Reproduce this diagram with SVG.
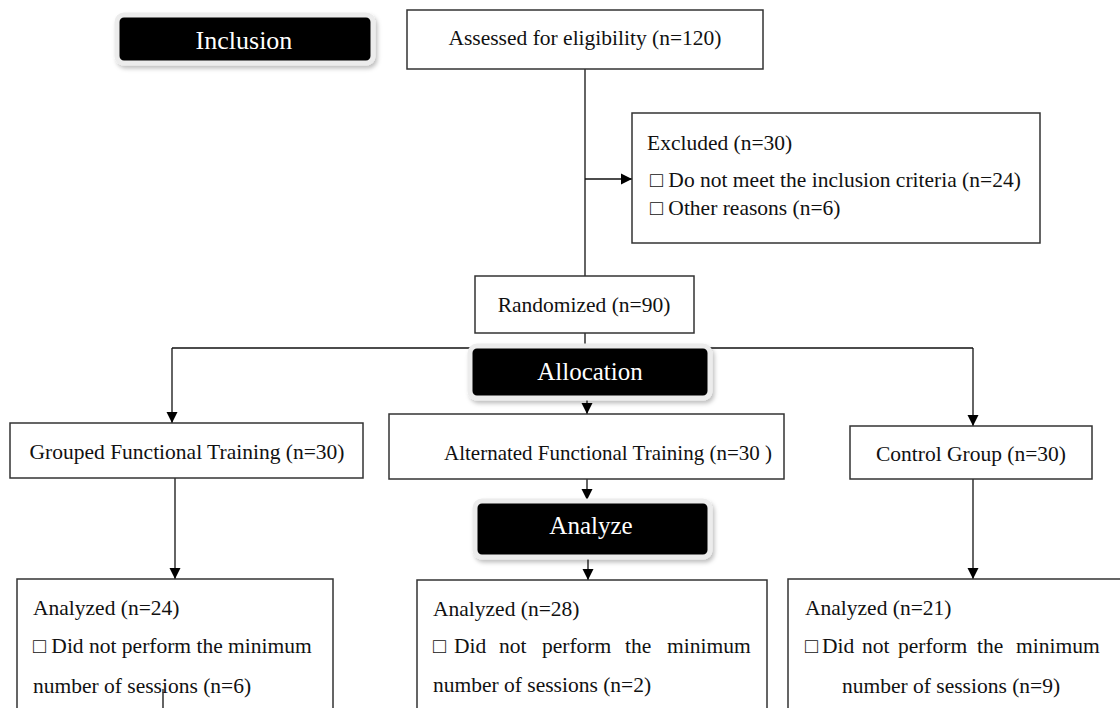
<svg xmlns="http://www.w3.org/2000/svg" width="1120" height="708" viewBox="0 0 1120 708">
<defs>
<marker id="arr" markerWidth="12" markerHeight="12" refX="11" refY="6" orient="auto" markerUnits="userSpaceOnUse">
<path d="M0,0.5 L11,6 L0,11.5 Z" fill="#000"/>
</marker>
<filter id="sh" x="-10%" y="-20%" width="125%" height="150%">
<feDropShadow dx="2" dy="3" stdDeviation="2" flood-color="#000" flood-opacity="0.25"/>
</filter>
</defs>
<style>
.box{fill:#fff;stroke:#333;stroke-width:1.5}
.t{font-family:"Liberation Serif","Times New Roman",serif;font-size:21.5px;fill:#111}
.hd{fill:#000;stroke:#ececec;stroke-width:5}
.ht{font-family:"Liberation Serif","Times New Roman",serif;font-size:26px;fill:#fff;text-anchor:middle}
.c{fill:none;stroke:#111;stroke-width:1.3}
</style>
<rect width="1120" height="708" fill="#fff"/>
<g id="connectors">
<line class="c" x1="585" y1="69" x2="585" y2="276"/>
<line class="c" x1="585" y1="179" x2="632" y2="179" marker-end="url(#arr)"/>
<line class="c" x1="585" y1="333" x2="585" y2="348"/>
<line class="c" x1="172" y1="348" x2="973" y2="348"/>
<line class="c" x1="172" y1="348" x2="172" y2="423" marker-end="url(#arr)"/>
<line class="c" x1="973" y1="348" x2="973" y2="426" marker-end="url(#arr)"/>
<line class="c" x1="587" y1="398" x2="587" y2="414" marker-end="url(#arr)"/>
<line class="c" x1="587" y1="479" x2="587" y2="500" marker-end="url(#arr)"/>
<line class="c" x1="588" y1="557" x2="588" y2="580" marker-end="url(#arr)"/>
<line class="c" x1="175" y1="478" x2="175" y2="579" marker-end="url(#arr)"/>
<line class="c" x1="973" y1="479" x2="973" y2="579" marker-end="url(#arr)"/>
</g>
<g id="inclusion">
<rect class="hd" x="117" y="15" width="256" height="48" rx="7" filter="url(#sh)"/>
<text class="ht" x="244" y="49">Inclusion</text>
</g>
<g id="assessed">
<rect class="box" x="407" y="10" width="356" height="59"/>
<text class="t" x="585" y="45" text-anchor="middle">Assessed for eligibility (n=120)</text>
</g>
<g id="excluded">
<rect class="box" x="632" y="113" width="408" height="130"/>
<text class="t" x="647" y="150">Excluded (n=30)</text>
<text class="t" x="650" y="187">□ Do not meet the inclusion criteria (n=24)</text>
<text class="t" x="650" y="215">□ Other reasons (n=6)</text>
</g>
<g id="randomized">
<rect class="box" x="475" y="276" width="219" height="57"/>
<text class="t" x="584" y="312" text-anchor="middle">Randomized (n=90)</text>
</g>
<g id="allocation">
<rect class="hd" x="470" y="346" width="240" height="52" rx="7" filter="url(#sh)"/>
<text class="ht" x="590" y="380" style="font-size:25px">Allocation</text>
</g>
<g id="grouped">
<rect class="box" x="10" y="423" width="353" height="55"/>
<text class="t" x="187" y="459" text-anchor="middle">Grouped Functional Training (n=30)</text>
</g>
<g id="alternated">
<rect class="box" x="389" y="414" width="395" height="65"/>
<text class="t" x="444" y="460" style="font-size:21px">Alternated Functional Training (n=30 )</text>
</g>
<g id="control">
<rect class="box" x="850" y="426" width="242" height="53"/>
<text class="t" x="971" y="461" text-anchor="middle">Control Group (n=30)</text>
</g>
<g id="analyze">
<rect class="hd" x="475" y="501" width="235" height="56" rx="7" filter="url(#sh)"/>
<text class="ht" x="591" y="534" style="font-size:25px">Analyze</text>
</g>
<g id="analyzed-grouped">
<rect class="box" x="17" y="579" width="316" height="140"/>
<text class="t" x="33" y="615">Analyzed (n=24)</text>
<text class="t" x="33" y="653">□ Did not perform the minimum</text>
<text class="t" x="33" y="693">number of sessions (n=6)</text>
<line class="c" x1="163" y1="689" x2="163" y2="708"/>
</g>
<g id="analyzed-alternated">
<rect class="box" x="417" y="580" width="350" height="140"/>
<text class="t" x="433" y="616">Analyzed (n=28)</text>
<text class="t" y="653"><tspan x="433">□</tspan><tspan x="454">Did</tspan><tspan x="499">not</tspan><tspan x="542">perform</tspan><tspan x="625">the</tspan><tspan x="667">minimum</tspan></text>
<text class="t" x="433" y="692">number of sessions (n=2)</text>
</g>
<g id="analyzed-control">
<rect class="box" x="788" y="579" width="340" height="140"/>
<text class="t" x="805" y="615">Analyzed (n=21)</text>
<text class="t" y="653"><tspan x="805">□</tspan><tspan x="822">Did</tspan><tspan x="862">not</tspan><tspan x="898">perform</tspan><tspan x="977">the</tspan><tspan x="1016">minimum</tspan></text>
<text class="t" x="842" y="693">number of sessions (n=9)</text>
</g>
</svg>
